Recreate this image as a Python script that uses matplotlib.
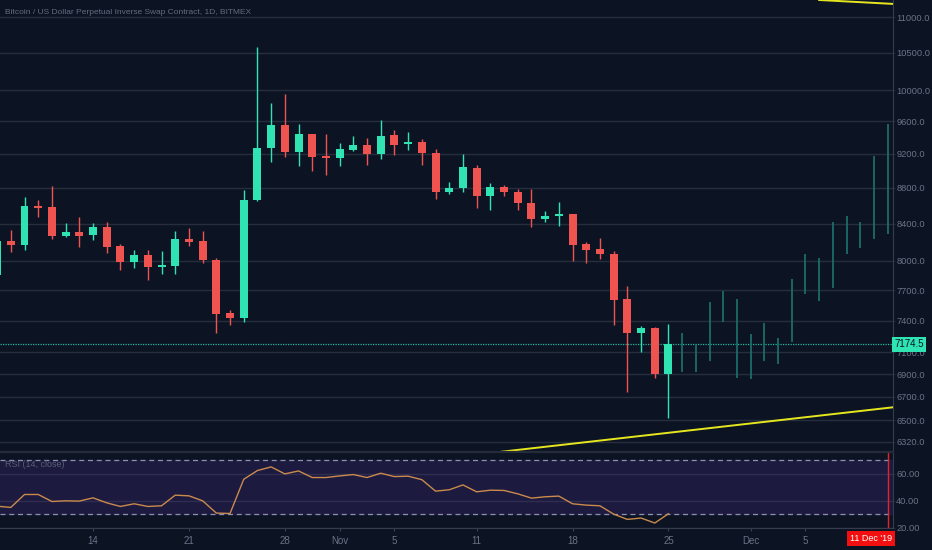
import matplotlib
matplotlib.use("Agg")
import matplotlib.pyplot as plt
import matplotlib.dates as mdates
from matplotlib.ticker import FixedLocator, NullLocator, FormatStrFormatter
import pandas as pd

# --- dados (BTC/USD BitMEX, diario) ---
datas = pd.date_range("2019-10-07", periods=50, freq="D")
abertura = [7859, 8212, 8173, 8600, 8589, 8266, 8309, 8274, 8364, 8155,
            7986, 8067, 7942, 7948, 8234, 8212, 8015, 7471, 7426, 8668,
            9269, 9558, 9220, 9443, 9172, 9152, 9252, 9313, 9204, 9427,
            9318, 9347, 9216, 8750, 8800, 9037, 8709, 8816, 8755, 8629,
            8455, 8485, 8507, 8180, 8127, 8074, 7613, 7281, 7326, 6900]
maxima = [8290, 8331, 8695, 8664, 8820, 8404, 8470, 8404, 8415, 8180,
          8120, 8120, 8105, 8320, 8356, 8320, 8036, 7509, 8782, 10577,
          9836, 9953, 9567, 9443, 9443, 9331, 9418, 9398, 9616, 9492,
          9467, 9386, 9260, 8869, 9200, 9073, 8862, 8839, 8785, 8793,
          8541, 8640, 8507, 8202, 8241, 8105, 7740, 7349, 7343, 7371]
minima = [7800, 8092, 8116, 8470, 8231, 8259, 8151, 8224, 8081, 7903,
          7931, 7801, 7869, 7869, 8158, 7979, 7282, 7362, 7384, 8652,
          9108, 9168, 9061, 8998, 8951, 9058, 9236, 9066, 9140, 9184,
          9248, 9073, 8675, 8732, 8750, 8573, 8555, 8712, 8555, 8361,
          8422, 8378, 8000, 7979, 8021, 7361, 6741, 7100, 6864, 6517]
fechamento = [8212, 8173, 8596, 8574, 8266, 8309, 8270, 8364, 8148, 7986,
              8067, 7942, 7955, 8234, 8202, 8007, 7465, 7426, 8668, 9269,
              9554, 9220, 9443, 9160, 9148, 9260, 9313, 9200, 9422, 9313,
              9347, 9212, 8750, 8796, 9042, 8709, 8816, 8750, 8629, 8452,
              8488, 8504, 8170, 8120, 8074, 7607, 7278, 7326, 6900, 7174.5]

rsi = [36.0, 35.1, 44.7, 44.7, 39.5, 40.0, 39.8, 42.2, 38.5, 35.8,
       37.8, 35.8, 36.3, 44.2, 43.7, 40.0, 30.9, 30.6, 56.0, 62.5,
       65.2, 60.0, 62.2, 57.3, 57.3, 58.5, 59.5, 57.3, 60.5, 58.0,
       58.3, 55.7, 47.2, 48.2, 51.8, 46.7, 47.9, 47.7, 45.2, 42.0,
       43.0, 43.5, 37.8, 36.8, 36.3, 30.1, 26.2, 27.2, 23.5, 30.4]

# barras "fantasma" (projecao) depois do ultimo candle
datas_proj = pd.date_range("2019-11-26", "2019-12-11", freq="D")
proj_max = [7285, 7169, 7586, 7693, 7613, 7273, 7381, 7232, 7814, 8073,
            8031, 8421, 8484, 8414, 9175, 9567]
proj_min = [6918, 6923, 7024, 7388, 6870, 6861, 7024, 6993, 7194, 7660,
            7597, 7726, 8070, 8140, 8233, 8282]

# linhas de tendencia (dois pontos cada)
tend_baixo = [("2019-11-13", 6239), ("2019-12-11", 6604)]
tend_cima = [("2019-12-06", 11247), ("2019-12-11", 11194)]

preco_ticks = [11000, 10500, 10000, 9600, 9200, 8800, 8400, 8000, 7700,
               7400, 7100, 6900, 6700, 6500, 6320]
rsi_ticks = [60, 40, 20]
x_ticks = ["2019-10-14", "2019-10-21", "2019-10-28", "2019-11-01", "2019-11-05",
           "2019-11-11", "2019-11-18", "2019-11-25", "2019-12-01", "2019-12-05"]
x_rotulos = ["14", "21", "28", "Nov", "5", "11", "18", "25", "Dec", "5"]

ultimo_preco = 7174.5
data_cursor = "2019-12-11"

# --- cores ---
fundo = "#0c1424"
grade = "#262d3d"
cinza = "#6a7285"
verde = "#2fe3b3"
vermelho = "#ef5350"

plt.rcParams["font.family"] = ["Liberation Sans", "DejaVu Sans"]

W, H = 932, 550
fig = plt.figure(figsize=(W / 100, H / 100), dpi=100, facecolor=fundo)

ax = fig.add_axes([0, 1 - 451.7 / H, 893 / W, 451.7 / H], facecolor=fundo)
ax2 = fig.add_axes([0, 1 - 528 / H, 893 / W, (528 - 452.5) / H], facecolor=fundo)

x = mdates.date2num(datas)
d0 = mdates.date2num(pd.Timestamp("2019-10-14"))
for a in (ax, ax2):
    a.set_xlim(d0 - 6.79, d0 + 58.39)

# candles
cores = [verde if c >= o else vermelho for o, c in zip(abertura, fechamento)]
ax.vlines(x, minima, maxima, colors=cores, lw=1, zorder=3)
corpo_base = [min(o, c) for o, c in zip(abertura, fechamento)]
corpo_alt = [max(abs(c - o), 8) for o, c in zip(abertura, fechamento)]
ax.bar(x, corpo_alt, bottom=corpo_base, width=0.58, color=cores, zorder=4)

# projecao
ax.vlines(mdates.date2num(datas_proj), proj_min, proj_max, colors="#1c6c68", lw=1.3, zorder=3)

# linha do ultimo preco
ax.axhline(ultimo_preco, color="#23b89f", lw=0.9, ls=(0, (1, 1)), zorder=2)

# tendencias
for linha in (tend_baixo, tend_cima):
    (da, pa), (db, pb) = linha
    ax.axline((mdates.date2num(pd.Timestamp(da)), pa), (mdates.date2num(pd.Timestamp(db)), pb),
              color="#e6e61e", lw=1.4, zorder=5)

ax.set_yscale("log")
ax.set_ylim(6237, 11247)
ax.yaxis.set_major_locator(FixedLocator(preco_ticks))
ax.yaxis.set_minor_locator(NullLocator())
ax.yaxis.set_major_formatter(FormatStrFormatter("%.1f"))
ax.yaxis.tick_right()
ax.grid(axis="y", color=grade, lw=1, zorder=0)
ax.tick_params(axis="y", colors=grade, labelcolor=cinza, labelsize=6.7, length=1.5, pad=0.8)
ax.tick_params(axis="x", bottom=False, labelbottom=False)
for s in ("top", "left", "bottom"):
    ax.spines[s].set_visible(False)
ax.spines["right"].set_color("#363c4e")

# rotulo do ultimo preco
ax.text(1.0015, ultimo_preco, "7174.5", transform=ax.get_yaxis_transform(), fontsize=7,
        color="#0c1424", va="center", ha="left", zorder=10, clip_on=False,
        bbox=dict(boxstyle="square,pad=0.25", fc=verde, ec="none"))

# --- RSI ---
ax2.axhspan(30, 70, color="#1d1a40", zorder=0)
ax2.plot(x, rsi, color="#c98a4c", lw=1, zorder=4)
for nivel in (70, 30):
    ax2.axhline(nivel, color="#8d92ab", lw=0.9, ls=(0, (4, 3)), zorder=2)
ax2.set_ylim(19.8, 75.9)
ax2.yaxis.set_major_locator(FixedLocator(rsi_ticks))
ax2.yaxis.set_major_formatter(FormatStrFormatter("%.2f"))
ax2.yaxis.tick_right()
ax2.grid(axis="y", color="#2f2e52", lw=1, zorder=1)
ax2.tick_params(axis="y", colors=grade, labelcolor=cinza, labelsize=6.7, length=1.5, pad=0.8)
ax2.set_xticks(mdates.date2num(pd.to_datetime(x_ticks)))
ax2.set_xticklabels(x_rotulos)
ax2.tick_params(axis="x", colors="#3a4152", labelcolor=cinza, labelsize=7, length=2, pad=4)
for s in ("top", "left"):
    ax2.spines[s].set_visible(False)
ax2.spines["right"].set_color("#363c4e")
ax2.spines["bottom"].set_color("#363c4e")
ax2.axvline(mdates.date2num(pd.Timestamp(data_cursor)), color="#e3242b", lw=1, zorder=6)
ax2.text(0.006, 0.845, "RSI (14, close)", transform=ax2.transAxes, fontsize=6.5,
         color="#585f72", va="center", ha="left")

# separador entre os paineis
fig.add_artist(plt.Line2D([0, 893 / W], [1 - 452 / H] * 2, color="#252b3b", lw=1.6))

# titulo
fig.text(5 / W, 1 - 12 / H, "Bitcoin / US Dollar Perpetual Inverse Swap Contract, 1D, BITMEX",
         fontsize=6, color="#646b7d", va="center", ha="left")

# caixa da data do cursor
fig.text(871 / W, 1 - 538.5 / H, "11 Dec '19", fontsize=6.5, color="white", va="center",
         ha="center", bbox=dict(boxstyle="square,pad=0.35", fc="#f20f0f", ec="none"))

fig.savefig("out.png", dpi=100, facecolor=fundo)
